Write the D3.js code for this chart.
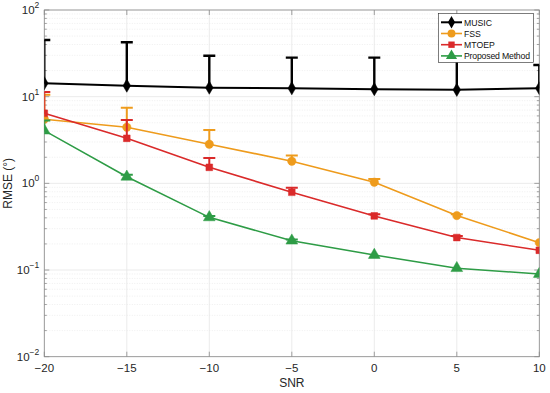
<!DOCTYPE html>
<html><head><meta charset="utf-8">
<script src="https://cdn.jsdelivr.net/npm/d3@7"></script>
<style>body{margin:0;background:#fff}svg{display:block;font-family:"Liberation Sans",Arial,sans-serif}</style>
</head><body><svg id="c" width="550" height="393"></svg>
<script>
const snr = [-20, -15, -10, -5, 0, 5, 10];
const seriesNames = ["MUSIC", "FSS", "MTOEP", "Proposed Method"];
const musicVals = [14.3, 13.4, 12.7, 12.5, 12.2, 12.0, 12.5];
const musicTop  = [45, 42.4, 29.7, 28.2, 28.2, 26, 23.2];
const fssVals = [5.5, 4.44, 2.83, 1.80, 1.03, 0.425, 0.207];
const fssTop  = [10.5, 7.46, 4.13, 2.09, 1.12, 0.44, null];
const mtoepVals = [6.44, 3.31, 1.53, 0.789, 0.421, 0.237, 0.169];
const mtoepTop  = [11.3, 5.38, 1.96, 0.892, 0.44, 0.247, null];
const propVals = [4.06, 1.19, 0.405, 0.218, 0.149, 0.105, 0.090];
const propTop  = [5.3, 1.26, 0.42, 0.225, null, null, null];
const xTicks = [-20, -15, -10, -5, 0, 5, 10];
const yTickExps = [-2, -1, 0, 1, 2];

const colors = ["#000000", "#EE9B1C", "#DA2A2A", "#2E9C46"];
const symbols = [d3.symbolDiamond, d3.symbolCircle, d3.symbolSquare, d3.symbolTriangle];
const symSizes = [50, 55, 45, 60];
const series = [
  {vals: musicVals, top: musicTop},
  {vals: fssVals, top: fssTop},
  {vals: mtoepVals, top: mtoepTop},
  {vals: propVals, top: propTop}
];

const svg = d3.select("#c");
const L = 44.3, R = 539.3, T = 10, B = 356.7;
const x = d3.scaleLinear().domain([-20, 10]).range([L, R]);
const y = d3.scaleLog().domain([0.01, 100]).range([B, T]);

// grid
const grid = svg.append("g");
const minorVals = [];
for (let e = -2; e < 2; e++) for (let k = 2; k <= 9; k++) minorVals.push(k * Math.pow(10, e));
grid.selectAll(".mg").data(minorVals).enter().append("line")
  .attr("x1", L).attr("x2", R).attr("y1", d => y(d)).attr("y2", d => y(d))
  .attr("stroke", "#e4e4e4").attr("stroke-width", 0.6).attr("stroke-dasharray", "1,1.5");
grid.selectAll(".My").data(yTickExps).enter().append("line")
  .attr("x1", L).attr("x2", R).attr("y1", d => y(Math.pow(10, d))).attr("y2", d => y(Math.pow(10, d)))
  .attr("stroke", "#e6e6e6").attr("stroke-width", 0.8);
grid.selectAll(".Mx").data(xTicks).enter().append("line")
  .attr("y1", T).attr("y2", B).attr("x1", d => x(d)).attr("x2", d => x(d))
  .attr("stroke", "#e6e6e6").attr("stroke-width", 0.8);

// axes ticks (inside)
const ax = svg.append("g").attr("stroke", "#8a8a8a").attr("stroke-width", 0.8);
ax.selectAll(".xb").data(xTicks).enter().append("line")
  .attr("x1", d => x(d)).attr("x2", d => x(d)).attr("y1", B).attr("y2", B - 5);
ax.selectAll(".xt").data(xTicks).enter().append("line")
  .attr("x1", d => x(d)).attr("x2", d => x(d)).attr("y1", T).attr("y2", T + 5);
ax.selectAll(".yl").data(yTickExps).enter().append("line")
  .attr("x1", L).attr("x2", L + 5).attr("y1", d => y(Math.pow(10, d))).attr("y2", d => y(Math.pow(10, d)));
ax.selectAll(".yr").data(yTickExps).enter().append("line")
  .attr("x1", R).attr("x2", R - 5).attr("y1", d => y(Math.pow(10, d))).attr("y2", d => y(Math.pow(10, d)));
ax.selectAll(".ylm").data(minorVals).enter().append("line")
  .attr("x1", L).attr("x2", L + 2.5).attr("y1", d => y(d)).attr("y2", d => y(d));
ax.selectAll(".yrm").data(minorVals).enter().append("line")
  .attr("x1", R).attr("x2", R - 2.5).attr("y1", d => y(d)).attr("y2", d => y(d));
svg.append("rect").attr("x", L).attr("y", T).attr("width", R - L).attr("height", B - T)
  .attr("fill", "none").attr("stroke", "#8a8a8a").attr("stroke-width", 0.8);

// tick labels
svg.selectAll(".xl").data(xTicks).enter().append("text")
  .attr("x", d => x(d)).attr("y", B + 15).attr("text-anchor", "middle")
  .attr("font-size", 11.5).attr("fill", "#262626")
  .text(d => d < 0 ? "\u2212" + Math.abs(d) : d);
const yl = svg.selectAll(".ylab").data(yTickExps).enter().append("text")
  .attr("x", L - 5).attr("y", d => y(Math.pow(10, d)) + 4).attr("text-anchor", "end")
  .attr("font-size", 11.5).attr("fill", "#262626");
yl.append("tspan").text("10");
yl.append("tspan").attr("dy", -6).attr("font-size", 8.5).text(d => d < 0 ? "\u2212" + Math.abs(d) : d);

svg.append("text").attr("x", (L + R) / 2).attr("y", 387).attr("text-anchor", "middle")
  .attr("font-size", 12).attr("fill", "#262626").text("SNR");
svg.append("text").attr("transform", `translate(12,${(T + B) / 2}) rotate(-90)`)
  .attr("text-anchor", "middle").attr("font-size", 12).attr("fill", "#262626").text("RMSE (\u00b0)");

// clip
svg.append("clipPath").attr("id", "clip").append("rect")
  .attr("x", L).attr("y", T).attr("width", R - L).attr("height", B - T);
const plot = svg.append("g").attr("clip-path", "url(#clip)");

const line = d3.line().x((d, i) => x(snr[i])).y(d => y(d));
series.forEach((s, si) => {
  const g = plot.append("g");
  const c = colors[si];
  const lw = si === 0 ? 2 : 1.6;
  s.top.forEach((t, i) => {
    if (t == null) return;
    g.append("line").attr("x1", x(snr[i])).attr("x2", x(snr[i]))
      .attr("y1", y(s.vals[i])).attr("y2", y(t)).attr("stroke", c).attr("stroke-width", lw + 0.4);
    g.append("line").attr("x1", x(snr[i]) - 6).attr("x2", x(snr[i]) + 6)
      .attr("y1", y(t)).attr("y2", y(t)).attr("stroke", c).attr("stroke-width", lw + 0.4);
  });
  g.append("path").datum(s.vals).attr("d", line).attr("fill", "none")
    .attr("stroke", c).attr("stroke-width", lw);
  g.selectAll(".m").data(s.vals).enter().append("path")
    .attr("transform", (d, i) => `translate(${x(snr[i])},${y(d)})`)
    .attr("d", d3.symbol().type(symbols[si]).size(symSizes[si]))
    .attr("fill", c).attr("stroke", c).attr("stroke-width", 0.5);
});

// legend
const lg = svg.append("g");
lg.append("rect").attr("x", 438.5).attr("y", 13.5).attr("width", 95).attr("height", 49)
  .attr("fill", "#fff").attr("stroke", "#262626").attr("stroke-width", 0.6);
seriesNames.forEach((n, i) => {
  const yy = 22.3 + i * 11.2;
  lg.append("line").attr("x1", 441).attr("x2", 462).attr("y1", yy).attr("y2", yy)
    .attr("stroke", colors[i]).attr("stroke-width", i === 0 ? 2 : 1.6);
  lg.append("path").attr("transform", `translate(451.5,${yy})`)
    .attr("d", d3.symbol().type(symbols[i]).size(symSizes[i] * 0.9))
    .attr("fill", colors[i]);
  lg.append("text").attr("x", 464).attr("y", yy + 3.3).attr("font-size", 8.7)
    .attr("textLength", n.length > 10 ? 66 : null)
    .attr("fill", "#111").text(n);
});
</script></body></html>
